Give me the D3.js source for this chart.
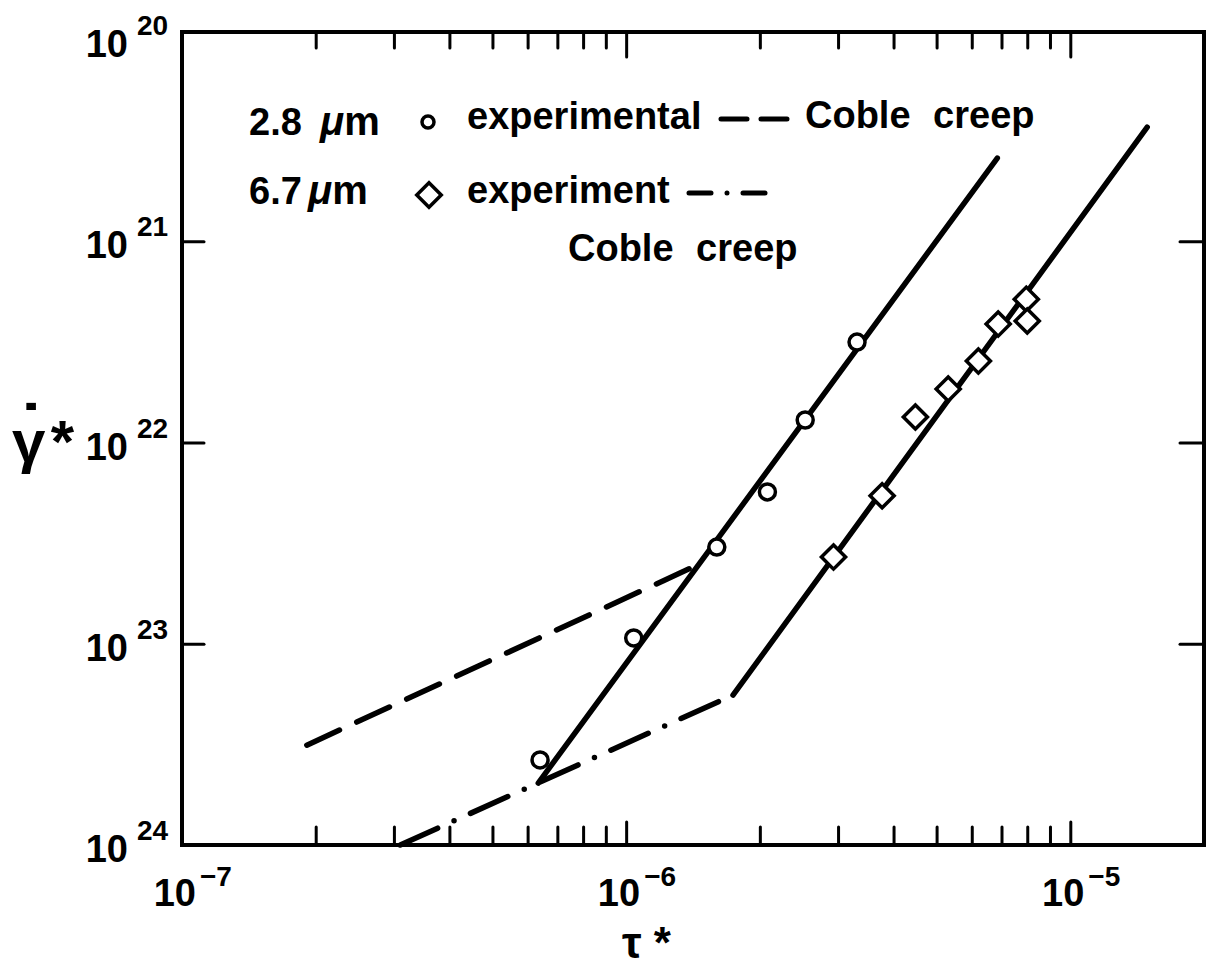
<!DOCTYPE html>
<html>
<head>
<meta charset="utf-8">
<script src="https://cdn.jsdelivr.net/npm/d3@7"></script>
<style>
  body { margin: 0; background: #fff; }
  text { font-family: "Liberation Sans", Arial, sans-serif; font-weight: bold; fill: #000; }
  .tick line { stroke: #000; stroke-width: 3; stroke-linecap: round; }
</style>
</head>
<body>
<div id="chart"></div>
<script>
const WIDTH = 1211, HEIGHT = 968;
const F = { left: 182, right: 1204, top: 32, bottom: 845 };

// 2.8 um experimental points (circles)
const tau28 = [6.4e-7, 1.04e-6, 1.6e-6, 2.08e-6, 2.53e-6, 3.31e-6];
const rate28 = [3.78e23, 9.36e22, 3.31e22, 1.76e22, 7.73e21, 3.17e21];
// 6.7 um experimental points (diamonds)
const tau67 = [2.93e-6, 3.77e-6, 4.48e-6, 5.31e-6, 6.21e-6, 6.88e-6, 7.96e-6, 8.0e-6];
const rate67 = [3.71e22, 1.84e22, 7.47e21, 5.42e21, 3.94e21, 2.58e21, 1.94e21, 2.49e21];

// fitted / model lines
const fit28Tau = [6.34e-7, 6.85e-6], fit28Rate = [4.92e23, 3.86e20];
const coble28Tau = [1.91e-7, 1.43e-6], coble28Rate = [3.19e23, 4.11e22];
const coble67Tau = [3.1e-7, 1.74e-6], coble67Rate = [1e24, 1.8e23];
const fit67Tau = [1.74e-6, 1.49e-5], fit67Rate = [1.8e23, 2.71e20];

// tick labels (powers of ten)
const xTickExps = [-7, -6, -5];
const yTickExps = [20, 21, 22, 23, 24];

const svg = d3.select("#chart").append("svg")
  .attr("width", WIDTH).attr("height", HEIGHT);

const x = d3.scaleLog().domain([1e-7, 2e-5]).range([F.left, F.right]);
const y = d3.scaleLog().domain([1e20, 1e24]).range([40, F.bottom]);

const xMajor = [1e-6, 1e-5];
const xMinor = x.ticks().filter(v => v > 1e-7 * 1.01 && v < 1.5e-5 && !xMajor.some(m => Math.abs(m - v) / m < 1e-6));
const yInner = [1e21, 1e22, 1e23];

// ticks, pointing inward
function ticks(axis, tr) {
  const g = svg.append("g").attr("transform", tr).call(axis);
  g.select(".domain").remove();
}
ticks(d3.axisBottom(x).tickValues(xMinor).tickSize(-18).tickFormat(""), `translate(0,${F.bottom})`);
ticks(d3.axisBottom(x).tickValues(xMajor).tickSize(-23).tickFormat(""), `translate(0,${F.bottom})`);
ticks(d3.axisTop(x).tickValues(xMinor).tickSize(-16).tickFormat(""), `translate(0,${F.top})`);
ticks(d3.axisTop(x).tickValues(xMajor).tickSize(-25).tickFormat(""), `translate(0,${F.top})`);
ticks(d3.axisLeft(y).tickValues(yInner).tickSize(-22).tickFormat(""), `translate(${F.left},0)`);
ticks(d3.axisRight(y).tickValues(yInner).tickSize(-24).tickFormat(""), `translate(${F.right},0)`);

svg.append("rect")
  .attr("x", F.left).attr("y", F.top)
  .attr("width", F.right - F.left).attr("height", F.bottom - F.top)
  .attr("fill", "none").attr("stroke", "#000").attr("stroke-width", 4);

// tick labels
const xl = svg.append("g").selectAll("g").data(xTickExps).join("g");
xl.append("text").attr("x", d => x(Math.pow(10, d)) + 14).attr("y", 906)
  .attr("text-anchor", "end").attr("font-size", 38).text("10");
xl.append("text").attr("x", d => x(Math.pow(10, d)) + 18).attr("y", 886)
  .attr("font-size", 28).text(d => "\u2212" + (-d));

const yl = svg.append("g").selectAll("g").data(yTickExps).join("g");
yl.append("text").attr("x", 128).attr("y", d => y(Math.pow(10, d)) + 17)
  .attr("text-anchor", "end").attr("font-size", 38).text("10");
yl.append("text").attr("x", 137).attr("y", d => y(Math.pow(10, d)) - 5)
  .attr("font-size", 28).text(d => d);

// axis titles
svg.append("text").attr("x", 622).attr("y", 958).attr("font-size", 44)
  .text("\u03c4").append("tspan").attr("dx", 12).text("*");
const yt = svg.append("text").attr("x", 12).attr("y", 462).attr("font-size", 60);
yt.append("tspan").text("\u03b3");
yt.append("tspan").attr("dx", -26).attr("dy", -8).attr("font-size", 70).text("\u02d9");
yt.append("tspan").attr("dx", 8).attr("dy", 8).text("*");

// lines
const line = d3.line().x(d => x(d[0])).y(d => y(d[1]));
function drawLine(tau, rate, dash) {
  svg.append("path").datum(d3.zip(tau, rate))
    .attr("d", line).attr("fill", "none").attr("stroke", "#000")
    .attr("stroke-width", 5.5).attr("stroke-linecap", "round")
    .attr("stroke-dasharray", dash);
}
drawLine(coble28Tau, coble28Rate, "36,19");
drawLine(coble67Tau, coble67Rate, "41,18,0,18");
drawLine(fit28Tau, fit28Rate, null);
drawLine(fit67Tau, fit67Rate, null);

// points
svg.append("g").selectAll("circle").data(d3.zip(tau28, rate28)).join("circle")
  .attr("cx", d => x(d[0])).attr("cy", d => y(d[1])).attr("r", 8)
  .attr("fill", "#fff").attr("stroke", "#000").attr("stroke-width", 3.5);

const diamond = d3.symbol(d3.symbolSquare, 290);
svg.append("g").selectAll("path").data(d3.zip(tau67, rate67)).join("path")
  .attr("d", diamond)
  .attr("transform", d => `translate(${x(d[0])},${y(d[1])}) rotate(45)`)
  .attr("fill", "#fff").attr("stroke", "#000").attr("stroke-width", 3.5);

// legend
const lg = svg.append("g");
lg.append("text").attr("x", 249).attr("y", 135).attr("font-size", 38).text("2.8");
lg.append("text").attr("x", 320).attr("y", 135).attr("font-size", 40)
  .html('<tspan font-style="italic">\u03bc</tspan>m');
lg.append("circle").attr("cx", 428).attr("cy", 122).attr("r", 6)
  .attr("fill", "none").attr("stroke", "#000").attr("stroke-width", 3.5);
lg.append("text").attr("x", 467).attr("y", 129).attr("font-size", 38).text("experimental");
lg.append("line").attr("x1", 721).attr("x2", 788).attr("y1", 119).attr("y2", 119)
  .attr("stroke", "#000").attr("stroke-width", 5).attr("stroke-linecap", "round")
  .attr("stroke-dasharray", "26,14");
lg.append("text").attr("x", 805).attr("y", 128).attr("font-size", 38)
  .attr("word-spacing", 12).text("Coble creep");

lg.append("text").attr("x", 249).attr("y", 204).attr("font-size", 38).text("6.7");
lg.append("text").attr("x", 308).attr("y", 204).attr("font-size", 40)
  .html('<tspan font-style="italic">\u03bc</tspan>m');
lg.append("path").attr("d", d3.symbol(d3.symbolSquare, 300))
  .attr("transform", "translate(429,195) rotate(45)")
  .attr("fill", "none").attr("stroke", "#000").attr("stroke-width", 3.5);
lg.append("text").attr("x", 467).attr("y", 203).attr("font-size", 38).text("experiment");
lg.append("line").attr("x1", 689).attr("x2", 765).attr("y1", 193).attr("y2", 193)
  .attr("stroke", "#000").attr("stroke-width", 5).attr("stroke-linecap", "round")
  .attr("stroke-dasharray", "22,16,0,16");
lg.append("text").attr("x", 568).attr("y", 261).attr("font-size", 38)
  .attr("word-spacing", 12).text("Coble creep");
</script>
</body>
</html>
